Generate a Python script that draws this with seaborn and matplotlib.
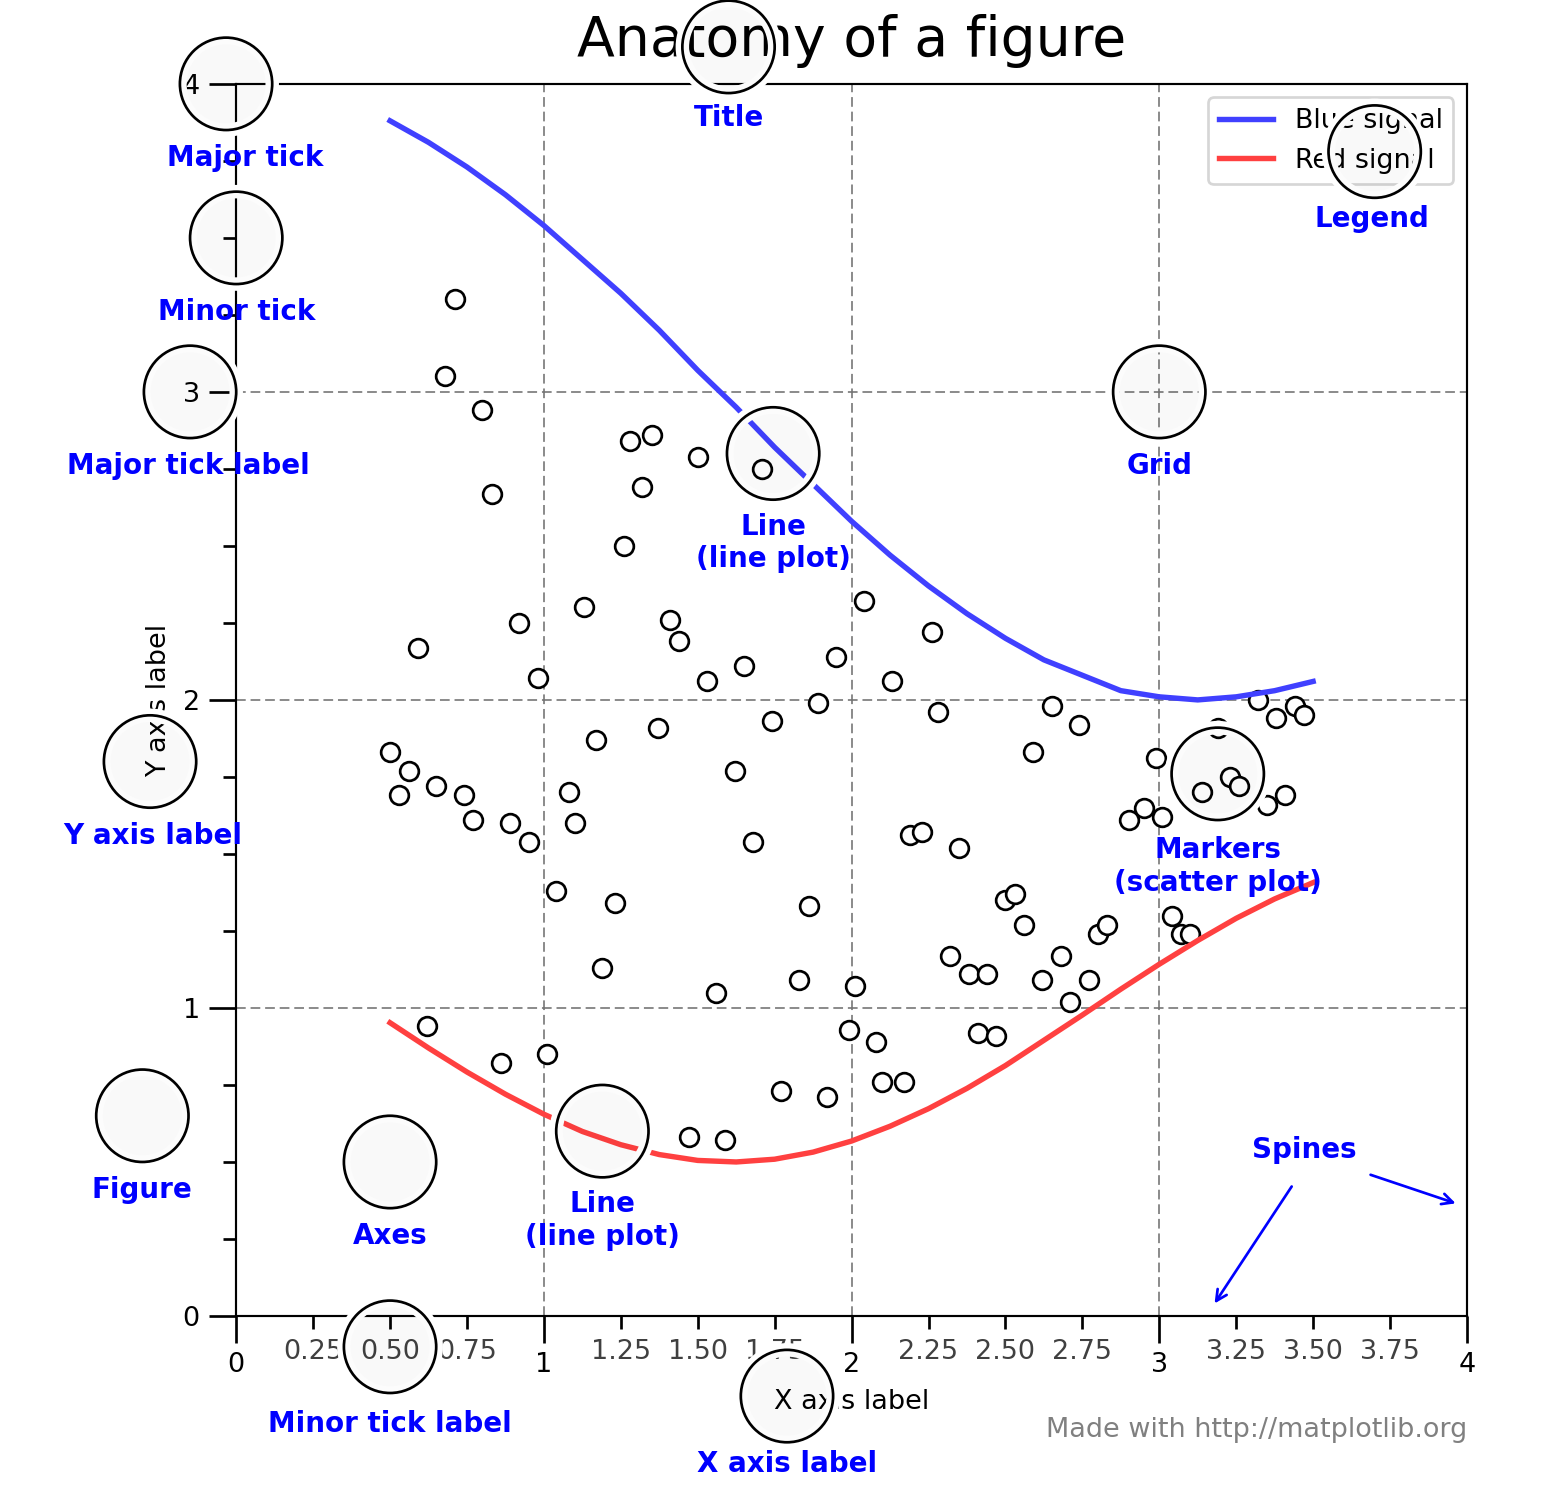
import numpy as np
import pandas as pd
import matplotlib
matplotlib.use("Agg")
import matplotlib.pyplot as plt
import seaborn as sns
from matplotlib.patches import Circle
from matplotlib.ticker import MultipleLocator, FuncFormatter
import matplotlib.patheffects as pe

# line data
line_x = [0.5, 0.625, 0.75, 0.875, 1.0, 1.125, 1.25, 1.375, 1.5, 1.625, 1.75, 1.875, 2.0,
          2.125, 2.25, 2.375, 2.5, 2.625, 2.75, 2.875, 3.0, 3.125, 3.25, 3.375, 3.5]
blue_y = [3.88, 3.81, 3.73, 3.64, 3.54, 3.43, 3.32, 3.20, 3.07, 2.95, 2.82, 2.70, 2.58,
          2.47, 2.37, 2.28, 2.20, 2.13, 2.08, 2.03, 2.01, 2.00, 2.01, 2.03, 2.06]
red_y = [0.952, 0.870, 0.792, 0.720, 0.655, 0.599, 0.556, 0.524, 0.505, 0.500, 0.509, 0.532, 0.568,
         0.616, 0.673, 0.739, 0.813, 0.895, 0.977, 1.061, 1.142, 1.219, 1.291, 1.354, 1.407]

# scatter markers
sc_x = [0.71, 0.68, 0.80, 0.83, 1.28, 1.35, 1.32, 1.50, 1.71, 1.26, 1.13, 0.92, 1.41, 1.44, 0.59,
        0.98, 1.53, 1.65, 2.04, 2.26, 1.95, 2.13, 1.89, 2.28, 1.74, 1.37, 1.17, 0.50, 0.56, 0.65,
        0.53, 0.74, 1.08, 1.62, 0.77, 0.89, 1.10, 0.95, 1.68, 2.19, 2.23, 2.35, 2.65, 2.74, 2.59,
        2.99, 3.32, 3.38, 3.44, 3.47, 3.19, 3.14, 3.23, 3.26, 3.35, 3.41, 2.90, 2.95, 3.01, 1.04,
        1.23, 1.86, 2.50, 2.53, 2.56, 2.80, 2.83, 3.04, 3.07, 3.10, 2.32, 2.38, 2.44, 2.68, 2.62,
        2.77, 2.71, 1.19, 1.56, 1.83, 2.01, 0.62, 0.86, 1.01, 1.99, 2.08, 2.41, 2.47, 2.10, 2.17,
        1.77, 1.92, 1.47, 1.59]
sc_y = [3.30, 3.05, 2.94, 2.67, 2.84, 2.86, 2.69, 2.79, 2.75, 2.50, 2.30, 2.25, 2.26, 2.19, 2.17,
        2.07, 2.06, 2.11, 2.32, 2.22, 2.14, 2.06, 1.99, 1.96, 1.93, 1.91, 1.87, 1.83, 1.77, 1.72,
        1.69, 1.69, 1.70, 1.77, 1.61, 1.60, 1.60, 1.54, 1.54, 1.56, 1.57, 1.52, 1.98, 1.92, 1.83,
        1.81, 2.00, 1.94, 1.98, 1.95, 1.91, 1.70, 1.75, 1.72, 1.66, 1.69, 1.61, 1.65, 1.62, 1.38,
        1.34, 1.33, 1.35, 1.37, 1.27, 1.24, 1.27, 1.30, 1.24, 1.24, 1.17, 1.11, 1.11, 1.17, 1.09,
        1.09, 1.02, 1.13, 1.05, 1.09, 1.07, 0.94, 0.82, 0.85, 0.93, 0.89, 0.92, 0.91, 0.76, 0.76,
        0.73, 0.71, 0.58, 0.57]

# annotations: label, circle centre, text centre
notes = [
    ("Major tick", (-0.033, 4.0), (0.03, 3.76)),
    ("Minor tick", (0.0, 3.50), (0.0, 3.26)),
    ("Major tick label", (-0.15, 3.0), (-0.156, 2.76)),
    ("Y axis label", (-0.28, 1.8), (-0.27, 1.56)),
    ("Title", (1.60, 4.12), (1.6, 3.89)),
    ("Legend", (3.70, 3.78), (3.69, 3.56)),
    ("Grid", (3.0, 3.0), (3.0, 2.76)),
    ("Line\n(line plot)", (1.745, 2.80), (1.745, 2.51)),
    ("Markers\n(scatter plot)", (3.19, 1.76), (3.19, 1.46)),
    ("Figure", (-0.305, 0.65), (-0.305, 0.41)),
    ("Axes", (0.5, 0.5), (0.5, 0.26)),
    ("Line\n(line plot)", (1.19, 0.60), (1.19, 0.31)),
    ("Minor tick label", (0.5, -0.10), (0.5, -0.35)),
    ("X axis label", (1.79, -0.26), (1.79, -0.48)),
]

fig = plt.figure(figsize=(8.0, 7.712), dpi=194.25)
ax = fig.add_axes([0.152, 0.1215, 0.792, 0.8225])

sns.lineplot(x=line_x, y=blue_y, ax=ax, color=(0.25, 0.25, 1.0), lw=2.0, label="Blue signal", zorder=10)
sns.lineplot(x=line_x, y=red_y, ax=ax, color=(1.0, 0.25, 0.25), lw=2.0, label="Red signal", zorder=10)
sns.scatterplot(x=sc_x, y=sc_y, ax=ax, s=48, facecolor="white", edgecolor="black", linewidth=1.0, zorder=5)

ax.set_xlim(0, 4)
ax.set_ylim(0, 4)
ax.xaxis.set_major_locator(MultipleLocator(1.0))
ax.xaxis.set_minor_locator(MultipleLocator(0.25))
ax.yaxis.set_major_locator(MultipleLocator(1.0))
ax.yaxis.set_minor_locator(MultipleLocator(0.25))
ax.xaxis.set_minor_formatter(FuncFormatter(lambda x, pos: "" if x % 1.0 == 0 else "%.2f" % x))
ax.tick_params(which="major", width=1.0, length=10)
ax.tick_params(which="minor", width=1.0, length=5, labelsize=10, labelcolor="0.25")
ax.grid(linestyle=(0, (6, 3)), linewidth=0.6, color=".45", zorder=-10)

ax.set_title("Anatomy of a figure", fontsize=20.5, verticalalignment="bottom")
ax.set_xlabel("X axis label")
ax.set_ylabel("Y axis label")
ax.legend(loc="upper right")

for label, (cx, cy), (tx, ty) in notes:
    c = Circle((cx, cy), 0.15, clip_on=False, zorder=20, linewidth=1,
               edgecolor="black", facecolor=(0, 0, 0, 0.0125),
               path_effects=[pe.withStroke(linewidth=5, foreground="w")])
    ax.add_artist(c)
    ax.text(tx, ty, label, ha="center", va="center", fontsize=10.3, weight="bold",
            color="blue", zorder=21, clip_on=False)

ax.text(3.47, 0.54, "Spines", ha="center", va="center", fontsize=10.3, weight="bold", color="blue")
ax.annotate("", xy=(3.17, 0.026), xytext=(3.44, 0.435),
            arrowprops=dict(arrowstyle="->", color="blue", lw=1), annotation_clip=False)
ax.annotate("", xy=(3.98, 0.36), xytext=(3.67, 0.464),
            arrowprops=dict(arrowstyle="->", color="blue", lw=1), annotation_clip=False)

ax.text(4.0, -0.37, "Made with http://matplotlib.org", fontsize=10, ha="right", va="center", color=".5")

fig.savefig("out.png", dpi=194.25)
